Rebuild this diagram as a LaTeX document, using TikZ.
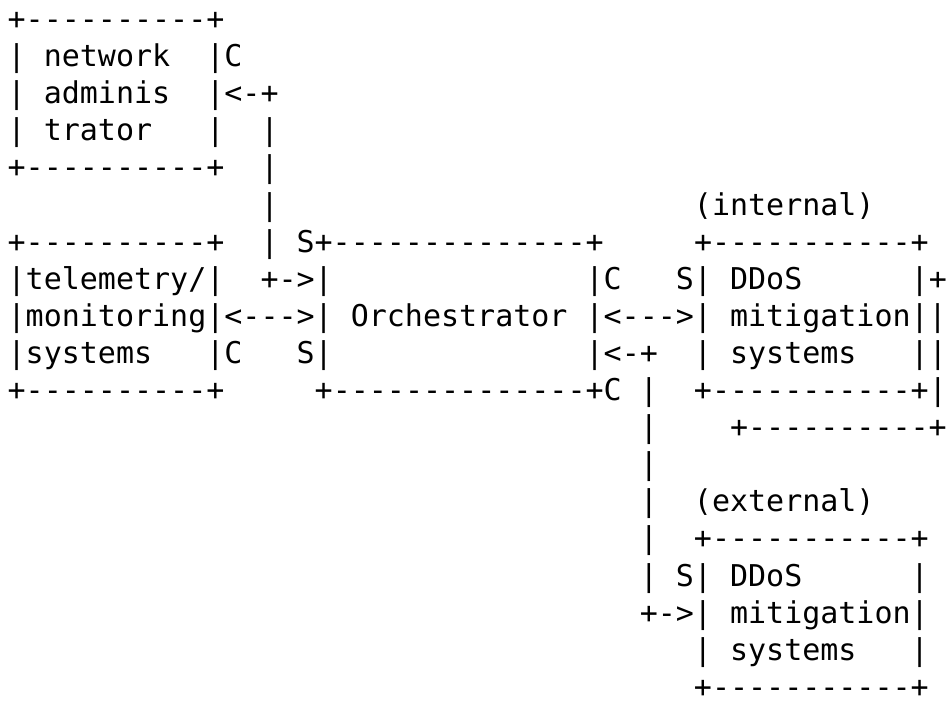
\documentclass[tikz,border=0pt]{standalone}
\usepackage{fontspec}
\setmonofont{DejaVu Sans Mono}
\newcommand\aline[4]{\node[txt] (#1) at ({7.67+#2*18.06},{675.4-(#3-1)*37.1}) {#4};}
\begin{document}
\begin{tikzpicture}[x=1pt,y=1pt,
  txt/.style={inner sep=0pt, outer sep=0pt, anchor=base west,
    font=\fontsize{30}{37}\selectfont\ttfamily, text=black}]
\useasboundingbox[fill=white] (0,0) rectangle (946,705);
\aline{l1}{0}{1}{+----------+}
\aline{l2}{0}{2}{|~network~~|C}
\aline{l3}{0}{3}{|~adminis~~|<-+}
\aline{l4}{0}{4}{|~trator~~~|~~|}
\aline{l5}{0}{5}{+----------+~~|}
\aline{l6a}{14}{6}{|}
\aline{l6b}{38}{6}{(internal)}
\aline{l7}{0}{7}{+----------+~~|~S+--------------+~~~~~+-----------+}
\aline{l8}{0}{8}{|telemetry/|~~+->|~~~~~~~~~~~~~~|C~~~S|~DDoS~~~~~~|+}
\aline{l9}{0}{9}{|monitoring|<--->|~Orchestrator~|<--->|~mitigation||}
\aline{l10}{0}{10}{|systems~~~|C~~~S|~~~~~~~~~~~~~~|<-+~~|~systems~~~||}
\aline{l11}{0}{11}{+----------+~~~~~+--------------+C~|~~+-----------+|}
\aline{l12}{35}{12}{|~~~~+----------+}
\aline{l13}{35}{13}{|}
\aline{l14}{35}{14}{|~~(external)}
\aline{l15}{35}{15}{|~~+-----------+}
\aline{l16}{35}{16}{|~S|~DDoS~~~~~~|}
\aline{l17}{35}{17}{+->|~mitigation|}
\aline{l18}{38}{18}{|~systems~~~|}
\aline{l19}{38}{19}{+-----------+}
\end{tikzpicture}
\end{document}
